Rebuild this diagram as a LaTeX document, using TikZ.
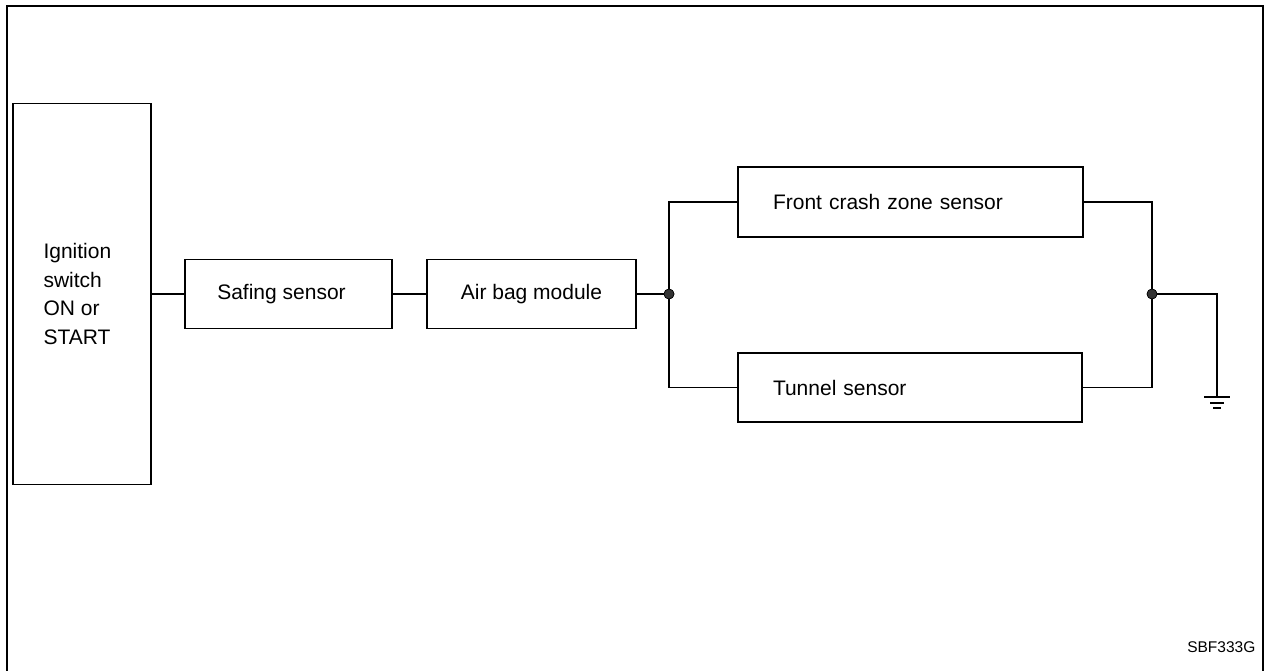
\documentclass[tikz,border=0pt]{standalone}
\usepackage{fontspec}
\setmainfont{Liberation Sans}
\begin{document}
\begin{tikzpicture}[x=1pt,y=-1pt,
  line width=1.3pt,
  blk/.style={draw, rectangle, inner sep=0pt, font=\fontsize{21}{28.5}\selectfont},
  junc/.style={circle, fill=black!80, draw=black, line width=0.6pt, minimum size=10pt, inner sep=0pt},
  wire/.style={line width=1.3pt}
]
\useasboundingbox (0,0) rectangle (1266,671);
\fill[white] (0,0) rectangle (1266,671);
% outer frame (open at the bottom)
\draw[line width=1.6pt] (7,671) -- (7,6) -- (1263,6) -- (1263,671);

% blocks
\node[blk, minimum width=138pt, minimum height=381pt, align=left] (ign) at (82,294)
  {Ignition\\switch\\ON or\\START\hspace*{10pt}};
\node[blk, minimum width=207pt, minimum height=69pt] (saf) at (288.5,294)
  {Safing sensor\hspace*{14pt}};
\node[blk, minimum width=209pt, minimum height=69pt] (air) at (531.5,294)
  {Air bag module};
\node[blk, minimum width=345pt, minimum height=70pt, align=left, text width=275pt, inner xsep=35pt, inner ysep=0pt] (front) at (910.5,202)
  {Front crash zone sensor};
\node[blk, minimum width=344pt, minimum height=69pt, align=left, text width=274pt, inner xsep=35pt, inner ysep=0pt] (tun) at (910,387.5)
  {Tunnel sensor};

% junctions
\node[junc] (jl) at (669,294) {};
\node[junc] (jr) at (1152,294) {};
\coordinate (gc) at (1217,294);
\coordinate (gnd) at (1217,397);

% wires
\draw[wire] (ign.east |- saf.west) -- (saf.west);
\draw[wire] (saf.east) -- (air.west);
\draw[wire] (air.east) -- (jl.center);
\draw[wire] (jl.center) |- (front.west);
\draw[wire] (jl.center) |- (tun.west);
\draw[wire] (front.east) -| (jr.center);
\draw[wire] (tun.east) -| (jr.center);
\draw[wire] (jr.center) -- (gc) -- (gnd);
\node[junc] at (jl) {};
\node[junc] at (jr) {};

% ground symbol
\draw[line width=1.2pt] ([xshift=-13pt]gnd) -- ([xshift=13pt]gnd);
\draw[line width=1.2pt] ([xshift=-7pt,yshift=-6pt]gnd) -- ([xshift=7pt,yshift=-6pt]gnd);
\draw[line width=1.2pt] ([xshift=-4pt,yshift=-11pt]gnd) -- ([xshift=4pt,yshift=-11pt]gnd);

% figure code
\node[anchor=east, inner sep=0pt, font=\fontsize{15.5}{18}\selectfont] (code) at (1256,647) {SBF333G};
\end{tikzpicture}
\end{document}
